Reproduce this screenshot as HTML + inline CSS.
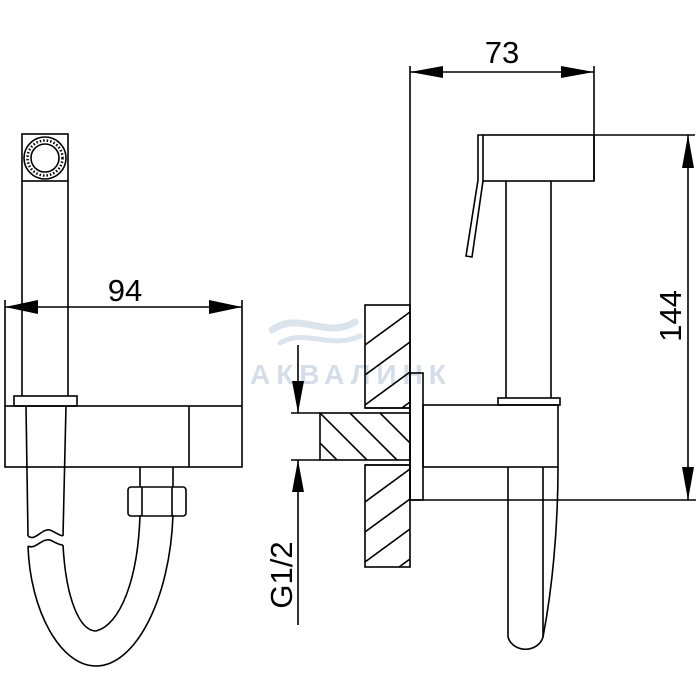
<!DOCTYPE html>
<html><head><meta charset="utf-8"><style>html,body{margin:0;padding:0;background:#fff}svg{display:block}</style></head>
<body>
<svg width="700" height="700" viewBox="0 0 700 700" xmlns="http://www.w3.org/2000/svg">
<defs>
<clipPath id="cw1"><rect x="365" y="305" width="45" height="103"/></clipPath>
<clipPath id="cw2"><rect x="365" y="465" width="45" height="102"/></clipPath>
<clipPath id="cp"><rect x="320" y="413" width="90" height="47"/></clipPath>
</defs>
<!-- watermark -->
<g fill="none" stroke="#dbe3ec" stroke-width="7" stroke-linecap="round">
<path d="M272 330 C300 310 325 340 355 322"/>
<path d="M280 343 C305 328 330 350 360 336" stroke-width="5"/>
</g>
<text x="250" y="384" font-family="Liberation Sans, sans-serif" font-weight="bold" font-size="28" fill="#d5dee8" letter-spacing="6">АКВАЛИНК</text>

<g fill="none" stroke="#000" stroke-width="1.6">
<!-- hatching -->
<g clip-path="url(#cw1)">
<line x1="365" y1="345" x2="410" y2="312"/>
<line x1="365" y1="375" x2="410" y2="342"/>
<line x1="365" y1="405" x2="410" y2="372"/>
<line x1="365" y1="435" x2="410" y2="402"/>
</g>
<g clip-path="url(#cw2)">
<line x1="365" y1="502" x2="410" y2="469"/>
<line x1="365" y1="532" x2="410" y2="499"/>
<line x1="365" y1="562" x2="410" y2="529"/>
<line x1="365" y1="592" x2="410" y2="559"/>
</g>
<g clip-path="url(#cp)">
<line x1="290" y1="413" x2="337" y2="460"/>
<line x1="320" y1="413" x2="367" y2="460"/>
<line x1="350" y1="413" x2="397" y2="460"/>
<line x1="380" y1="413" x2="427" y2="460"/>
</g>
<!-- LEFT VIEW -->
<rect x="22" y="134" width="46" height="47"/>
<circle cx="45" cy="158" r="21"/>
<circle cx="45" cy="158" r="14"/>
<circle cx="45" cy="158" r="17.5" stroke-dasharray="1.5 2" stroke-width="2.5"/>
<line x1="22" y1="181" x2="22" y2="396"/>
<line x1="68" y1="181" x2="68" y2="396"/>
<rect x="14" y="396" width="63" height="10"/>
<rect x="5" y="406" width="237" height="61"/>
<line x1="189" y1="406" x2="189" y2="467"/>
<line x1="5" y1="300" x2="5" y2="406"/>
<line x1="242" y1="300" x2="242" y2="406"/>
<line x1="26" y1="406" x2="28" y2="536"/>
<line x1="66" y1="406" x2="63" y2="536"/>
<path d="M28 536 C35 542 42 528 50 530 C55 532 58 535 63 536"/>
<path d="M28 546 C35 550 42 538 50 540 C55 542 58 545 63 545"/>
<path d="M28 546 C30 610 60 666 96 666 C135 666 170 600 173 515"/>
<path d="M63 545 C66 600 80 631 96 631 C120 625 138 580 140 515"/>
<line x1="140" y1="467" x2="140" y2="487"/>
<line x1="173" y1="467" x2="173" y2="487"/>
<rect x="128" y="487" width="58" height="29" rx="3"/>
<line x1="142" y1="487" x2="142" y2="516"/>
<line x1="172" y1="487" x2="172" y2="516"/>
<line x1="5" y1="307" x2="242" y2="307"/>

<!-- RIGHT VIEW -->
<line x1="410" y1="66" x2="410" y2="500"/>
<line x1="594" y1="66" x2="594" y2="181"/>
<line x1="410" y1="72" x2="594" y2="72"/>
<rect x="483" y="135" width="111" height="46"/>
<path d="M483 135 L478 135 L478 180 L466 256 L472 257 L483 181"/>
<line x1="594" y1="135" x2="695" y2="135"/>
<line x1="506" y1="181" x2="506" y2="398"/>
<line x1="551" y1="181" x2="551" y2="398"/>
<rect x="498" y="398" width="62" height="7"/>
<rect x="423" y="405" width="135" height="62"/>
<rect x="410" y="373" width="13" height="127"/>
<line x1="410" y1="500" x2="696" y2="500"/>
<line x1="688" y1="135" x2="688" y2="500"/>
<path d="M508 467 L508 637 A18 16 0 0 0 543 637 L543 467"/>
<path d="M558 467 C558 530 552 590 543 637"/>
<!-- wall -->
<rect x="365" y="305" width="45" height="103"/>
<rect x="365" y="465" width="45" height="102"/>
<rect x="320" y="413" width="90" height="47"/>
<line x1="365" y1="408" x2="410" y2="408"/>
<line x1="365" y1="465" x2="410" y2="465"/>
<line x1="291" y1="413" x2="320" y2="413"/>
<line x1="291" y1="460" x2="320" y2="460"/>
<line x1="298" y1="345" x2="298" y2="413"/>
<line x1="298" y1="460" x2="298" y2="625"/>
</g>
<g fill="#000">
<polygon points="5,307 38,300 38,314"/>
<polygon points="242,307 209,300 209,314"/>
<polygon points="410,72 443,66 443,78"/>
<polygon points="594,72 561,66 561,78"/>
<polygon points="688,135 682,168 694,168"/>
<polygon points="688,500 682,467 694,467"/>
<polygon points="298,413 292,381 304,381"/>
<polygon points="298,460 292,492 304,492"/>
</g>
<g font-family="Liberation Sans, sans-serif" font-size="31" fill="#000" text-anchor="middle">
<text x="125" y="301">94</text>
<text x="502" y="63">73</text>
<text transform="translate(681,316) rotate(-90)">144</text>
<text transform="translate(292,575) rotate(-90)">G1/2</text>
</g>
</svg>
</body></html>
